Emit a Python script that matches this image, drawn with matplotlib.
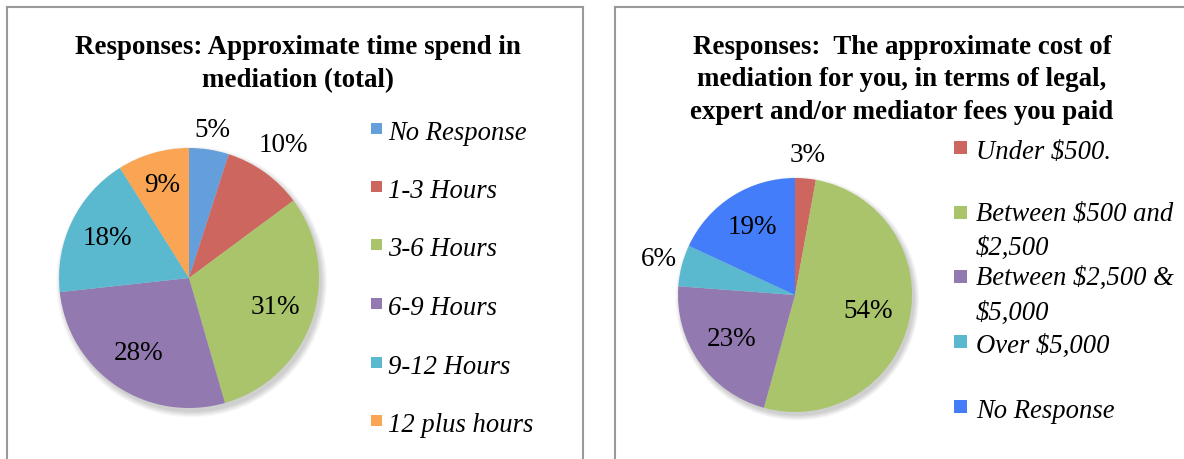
import numpy as np
import matplotlib
matplotlib.use("Agg")
import matplotlib.pyplot as plt
from matplotlib.patches import Circle, Rectangle
from matplotlib.lines import Line2D

# ---------------- data ----------------
title_left = "Responses: Approximate time spend in\nmediation (total)"
cats_left = ["No Response", "1-3 Hours", "3-6 Hours", "6-9 Hours", "9-12 Hours", "12 plus hours"]
vals_left = [5, 10, 31, 28, 18, 9]
colors_left = ["#649FDB", "#CC665E", "#A9C46A", "#9279B0", "#5AB8CF", "#F9A553"]

title_right = ("Responses:  The approximate cost of\nmediation for you, in terms of legal,\n"
               "expert and/or mediator fees you paid")
cats_right = ["Under $500.", "Between $500 and\n$2,500", "Between $2,500 &\n$5,000",
              "Over $5,000", "No Response"]
vals_right = [3, 54, 23, 6, 19]
colors_right = ["#CC665E", "#A9C46A", "#9279B0", "#5AB8CF", "#437DFA"]

# label radial distances (fraction of radius), per slice
dist_left = [1.15, 1.25, 0.70, 0.70, 0.70, 0.74]
dist_right = [1.20, 0.64, 0.66, 1.20, 0.68]

W, H = 1184, 459
plt.rcParams['font.family'] = ['Liberation Serif', 'DejaVu Serif']
fig = plt.figure(figsize=(W / 100, H / 100), dpi=100)
fig.patch.set_facecolor("white")


def fx(x):
    return x / W


def fy(y):
    return 1 - y / H


# ---------- frames ----------
frame_kw = dict(color="#9a9a9a", linewidth=1.5, transform=fig.transFigure)
for xs, ys in [((7, 7), (7, 459)), ((7, 583), (7, 7)), ((583, 583), (7, 459)),
               ((615, 615), (7, 459)), ((615, 1184), (7, 7))]:
    fig.add_artist(Line2D([fx(xs[0]), fx(xs[1])], [fy(ys[0]), fy(ys[1])], **frame_kw))


def draw_pie(cx, cy, R, vals, colors, dists):
    span = 1.5
    ax = fig.add_axes([fx(cx - span * R), fy(cy + span * R), 2 * span * R / W, 2 * span * R / H])
    # soft shadow
    for k in range(8):
        ax.add_patch(Circle((0.02, -0.03), 1.0 + k * 0.006, facecolor="black",
                            edgecolor="none", alpha=0.025, zorder=0))
    wedges, _ = ax.pie(vals, colors=colors, startangle=90, counterclock=False,
                       radius=1.0, wedgeprops=dict(linewidth=0, zorder=2))
    for w, v, d in zip(wedges, vals, dists):
        mid = np.deg2rad((w.theta1 + w.theta2) / 2)
        ax.text(d * np.cos(mid), d * np.sin(mid), f"{v}%", ha="center", va="center",
                fontsize=19.5, zorder=5)
    ax.set_xlim(-span, span)
    ax.set_ylim(-span, span)
    ax.set_aspect("equal")
    ax.axis("off")
    return ax


draw_pie(189, 278, 130, vals_left, colors_left, dist_left)
draw_pie(795, 295, 117, vals_right, colors_right, dist_right)

# ---------- titles (va='baseline' aligns the last line) ----------
fig.text(fx(298), fy(87), title_left, ha="center", va="baseline", fontsize=19.4,
         fontweight="bold", linespacing=1.40, multialignment="center")
fig.text(fx(902), fy(119), title_right, ha="center", va="baseline", fontsize=19.4,
         fontweight="bold", linespacing=1.40, multialignment="center")

LINE_STEP = 31.5


# ---------- legends ----------
def draw_legend(x_marker, x_text, y0, step, size, cats, colors):
    for i, (c, col) in enumerate(zip(cats, colors)):
        yc = y0 + i * step
        fig.add_artist(Rectangle((fx(x_marker), fy(yc + size / 2)), size / W, size / H,
                                 transform=fig.transFigure, facecolor=col, edgecolor="none"))
        nlines = c.count("\n")
        fig.text(fx(x_text), fy(yc + 11.5 + nlines * LINE_STEP), c, ha="left", va="baseline",
                 fontsize=19.2, style="italic", linespacing=1.5)


draw_legend(371, 388, 128, 58.5, 11, cats_left, colors_left)
draw_legend(954, 976, 147.5, 64.7, 13, cats_right, colors_right)

fig.savefig("out.png", dpi=100, facecolor="white")
